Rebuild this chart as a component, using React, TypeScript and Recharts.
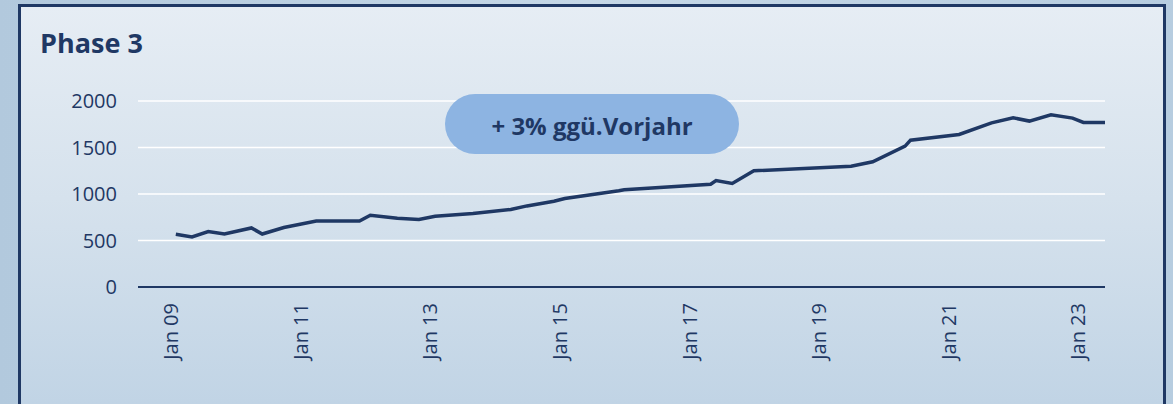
import React from 'react';
import { LineChart, Line, XAxis, YAxis, CartesianGrid } from 'recharts';

// monthly readings (yyyy-mm), only the months where the line bends
const months = [
  '2009-02', '2009-05', '2009-08', '2009-11', '2010-04', '2010-06', '2010-10',
  '2011-04', '2011-12', '2012-02', '2012-07', '2012-11', '2013-02', '2013-09',
  '2014-04', '2014-07', '2014-12', '2015-02', '2015-12', '2016-01', '2017-05',
  '2017-06', '2017-09', '2018-01', '2019-07', '2019-11', '2020-05', '2020-06',
  '2021-03', '2021-09', '2022-01', '2022-04', '2022-08', '2022-12', '2023-02',
  '2023-06',
];
const values = [
  567, 538, 596, 570, 635, 570, 639,
  710, 710, 772, 739, 725, 761, 790,
  833, 872, 922, 951, 1035, 1045, 1105,
  1145, 1113, 1249, 1299, 1346, 1515, 1579,
  1640, 1765, 1819, 1784, 1851, 1816, 1770,
  1770,
];
const tickLabels = ['Jan 09', 'Jan 11', 'Jan 13', 'Jan 15', 'Jan 17', 'Jan 19', 'Jan 21', 'Jan 23'];
const yTicks = [0, 500, 1000, 1500, 2000];

const NAVY = '#1f3864';
const FONT = '"Open Sans", "Noto Sans", sans-serif';

const monthIndex = (s: string) => {
  const [y, m] = s.split('-').map(Number);
  return (y - 2009) * 12 + (m - 1);
};

const data = months.map((d, i) => ({ m: monthIndex(d), value: values[i] }));
const xTicks = tickLabels.map((_, i) => i * 24);

const XTick = (props: any) => {
  const { x, y, payload } = props;
  return (
    <text
      x={0}
      y={0}
      transform={`translate(${x},${y + 16}) rotate(-90)`}
      textAnchor="end"
      dominantBaseline="central"
      fill={NAVY}
      fontSize={20}
      fontFamily={FONT}
    >
      {tickLabels[payload.value / 24]}
    </text>
  );
};

export default function App() {
  return (
    <div
      style={{
        position: 'absolute',
        left: 0,
        top: 0,
        width: 1173,
        height: 404,
        overflow: 'hidden',
        background: 'linear-gradient(90deg, #b2c9dd 0%, #c6d8e7 50%, #b7cde0 100%)',
      }}
    >
      <div
        style={{
          position: 'absolute',
          left: 18,
          top: 4,
          width: 1148,
          height: 430,
          boxSizing: 'border-box',
          border: `3px solid ${NAVY}`,
          background: 'linear-gradient(180deg, #e6edf4 0%, #d6e2ed 45%, #bed2e4 100%)',
        }}
      />
      <div style={{ position: 'absolute', left: 0, top: 0 }}>
        <LineChart
          width={1173}
          height={404}
          data={data}
          margin={{ top: 101, right: 68, bottom: 0, left: 78 }}
        >
          <CartesianGrid horizontal vertical={false} stroke="#ffffff" strokeWidth={1.5} />
          <XAxis
            type="number"
            dataKey="m"
            domain={[-6, 173]}
            ticks={xTicks}
            allowDataOverflow
            height={117}
            tickSize={0}
            tickMargin={0}
            tickLine={false}
            axisLine={{ stroke: NAVY, strokeWidth: 2 }}
            tick={<XTick />}
            interval={0}
          />
          <YAxis
            domain={[0, 2000]}
            ticks={yTicks}
            width={60}
            axisLine={false}
            tickLine={false}
            tickSize={0}
            tickMargin={21}
            tick={{ fill: NAVY, fontSize: 20, fontFamily: FONT }}
          />
          <Line
            type="linear"
            dataKey="value"
            stroke={NAVY}
            strokeWidth={3.5}
            dot={false}
            isAnimationActive={false}
          />
        </LineChart>
      </div>
      <svg
        width={1173}
        height={404}
        style={{ position: 'absolute', left: 0, top: 0, pointerEvents: 'none' }}
      >
        <text x={40} y={53} fill={NAVY} fontSize={27} fontWeight={700} fontFamily={FONT}>
          Phase 3
        </text>
        <rect x={445} y={94} width={294} height={60} rx={30} ry={30} fill="#8db4e2" />
        <text
          x={592}
          y={125}
          textAnchor="middle"
          dominantBaseline="central"
          fill={NAVY}
          fontSize={24}
          fontWeight={700}
          fontFamily={FONT}
        >
          + 3% ggü.Vorjahr
        </text>
      </svg>
    </div>
  );
}
